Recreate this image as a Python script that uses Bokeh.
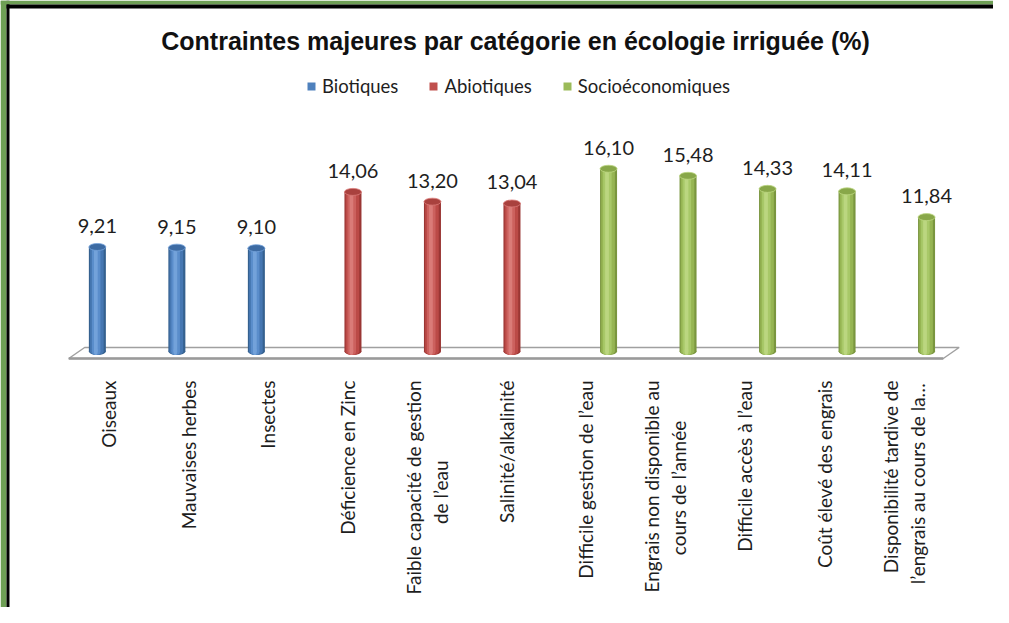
import math
from bokeh.plotting import figure
from bokeh.models import Range1d, ColumnDataSource, Label, Legend, LegendItem, BoxAnnotation
from bokeh.core.properties import value
from bokeh.embed import file_html
from bokeh.resources import INLINE

# ---------------- data ----------------
title_text = "Contraintes majeures par catégorie en écologie irriguée (%)"
series_names = ["Biotiques", "Abiotiques", "Socioéconomiques"]

bio_cats = ["Oiseaux", "Mauvaises herbes", "Insectes"]
bio_vals = [9.21, 9.15, 9.10]

abio_cats = ["Déficience en Zinc", "Faible capacité de gestion\nde l’eau", "Salinité/alkalinité"]
abio_vals = [14.06, 13.20, 13.04]

socio_cats = ["Difficile gestion de l’eau", "Engrais non disponible au\ncours de l’année",
              "Difficile accès à l’eau", "Coût élevé des engrais",
              "Disponibilité tardive de\nl’engrais au cours de la…"]
socio_vals = [16.10, 15.48, 14.33, 14.11, 11.84]

# ---------------- layout ----------------
W, H = 993, 607
PX_X = 79.5          # px per category
PX_Y = 11.35         # px per percent
CAT0_X = 108         # x of first category centre (canvas px)
ZERO_Y = 351         # y of value 0 (canvas px from top)

x_range = Range1d(-CAT0_X / PX_X, (W - CAT0_X) / PX_X)
y_range = Range1d((ZERO_Y - H) / PX_Y, ZERO_Y / PX_Y)

p = figure(width=W, height=H, x_range=x_range, y_range=y_range,
           output_backend="svg", toolbar_location=None, min_border=0,
           outline_line_color=None, background_fill_color="white",
           border_fill_color="white")
p.axis.visible = False
p.grid.visible = False

# dark frame around the chart area (top and left edges)
GREEN = "#6E9F55"
p.add_layout(BoxAnnotation(left=0, right=6, left_units="screen", right_units="screen",
                           fill_color=GREEN, fill_alpha=1, line_color=None))
p.add_layout(BoxAnnotation(left=6, right=9, left_units="screen", right_units="screen",
                           fill_color="black", fill_alpha=1, line_color=None))
p.add_layout(BoxAnnotation(top=H, bottom=H - 4, top_units="screen", bottom_units="screen",
                           fill_color=GREEN, fill_alpha=1, line_color=None))
p.add_layout(BoxAnnotation(top=H - 4, bottom=H - 8, left=6, top_units="screen",
                           bottom_units="screen", left_units="screen",
                           fill_color="black", fill_alpha=1, line_color=None))

all_cats = bio_cats + abio_cats + socio_cats
n = len(all_cats)

# 3D floor (decoration)
shift = 0.2
fy_front = -7.0 / PX_Y
fy_back = 4.0 / PX_Y
p.patch([-0.5, n - 0.5, n - 0.5 + shift, -0.5 + shift],
        [fy_front, fy_front, fy_back, fy_back],
        fill_color="white", line_color="#A0A0A0", line_width=1.5)
p.line([-0.5, n - 0.5], [fy_front, fy_front], line_color="#9A9A9A", line_width=2.5)

# series styling
BAR_W = 0.214
slot = 0.215
depth = 0.075
palettes = [
    ["#35618F", "#4677B2", "#5A8DCB", "#73A2DA", "#3D6BA3"],
    ["#9A3634", "#BB4A47", "#CC615E", "#DA7B78", "#A9413E"],
    ["#7A963F", "#96B553", "#A8C868", "#BBD680", "#88A749"],
]
legend_colors = ["#4F81BD", "#C0504D", "#9BBB59"]
layers = [(1.0, 0.0), (0.80, -0.03), (0.50, -0.07), (0.22, -0.09)]

cats_by_series = [bio_cats, abio_cats, socio_cats]
vals_by_series = [bio_vals, abio_vals, socio_vals]

legend_items = []
start = 0
for k, (cats, vals) in enumerate(zip(cats_by_series, vals_by_series)):
    idx = list(range(start, start + len(cats)))
    start += len(cats)
    xs = [i + depth + (k - 1) * slot for i in idx]
    src = ColumnDataSource(dict(x=xs, top=vals, zero=[0] * len(vals),
                                lab=[f"{v:.2f}".replace(".", ",") for v in vals]))
    pal = palettes[k]
    for li, (wf, dx) in enumerate(layers):
        xsh = [x + dx * BAR_W for x in xs]
        s2 = ColumnDataSource(dict(x=xsh, top=vals, zero=[0] * len(vals)))
        p.vbar(x="x", top="top", bottom=0, width=BAR_W * wf, source=s2,
               fill_color=pal[li], line_color=None)
        p.ellipse(x="x", y="zero", width=BAR_W * wf, height=7, height_units="screen",
                  source=s2, fill_color=pal[li], line_color=None)
    # top cap
    p.ellipse(x="x", y="top", width=BAR_W, height=7, height_units="screen", source=src,
              fill_color=pal[4], line_color=pal[3], line_width=0.8)
    # legend proxy (zero-height, invisible in plot)
    proxy = p.vbar(x="x", top="zero", bottom="zero", width=0, source=src,
                   fill_color=legend_colors[k], line_color=None)
    # value labels
    p.text(x="x", y="top", text="lab", source=src, text_align="center",
           text_baseline="middle", y_offset=-21, text_font=value("Lato"),
           text_font_size="20px", text_color="#1E1E1E")
    legend_items.append(LegendItem(label=series_names[k], renderers=[proxy]))

# category labels (rotated)
LAB_FS = 19
y_top = -(380 - ZERO_Y) / PX_Y
first_x, first_t, second_x, second_t, second_y = [], [], [], [], []
for i, c in enumerate(all_cats):
    parts = c.split("\n")
    if len(parts) == 1:
        first_x.append(i)
        first_t.append(parts[0])
    else:
        first_x.append(i - 13.5 / PX_X)
        first_t.append(parts[0])
        second_x.append(i + 13.5 / PX_X)
        second_t.append(parts[1])
        second_y.append(y_top - (len(parts[0]) * 8.6 / 2) / PX_Y)

p.text(x=first_x, y=[y_top] * len(first_x), text=first_t, angle=math.pi / 2,
       text_align="right", text_baseline="middle", text_font=value("Lato"),
       text_font_size=f"{LAB_FS}px", text_color="#1E1E1E")
p.text(x=second_x, y=second_y, text=second_t, angle=math.pi / 2,
       text_align="center", text_baseline="middle", text_font=value("Lato"),
       text_font_size=f"{LAB_FS}px", text_color="#1E1E1E")

# legend
legend = Legend(items=legend_items, orientation="horizontal", location=(306, H - 97),
                glyph_width=10, glyph_height=10, label_text_font="Lato",
                label_text_font_size="18.5px", label_standoff=6, spacing=30,
                padding=0, margin=0, border_line_color=None,
                background_fill_alpha=0, label_text_color="#1E1E1E")
p.add_layout(legend)

# title
p.add_layout(Label(x=515, y=H - 40, x_units="screen", y_units="screen",
                   text=title_text, text_align="center", text_baseline="middle",
                   text_font="Liberation Sans", text_font_style="bold",
                   text_font_size="25px", text_color="#111111"))

open("out.html", "w").write(file_html(p, INLINE))
